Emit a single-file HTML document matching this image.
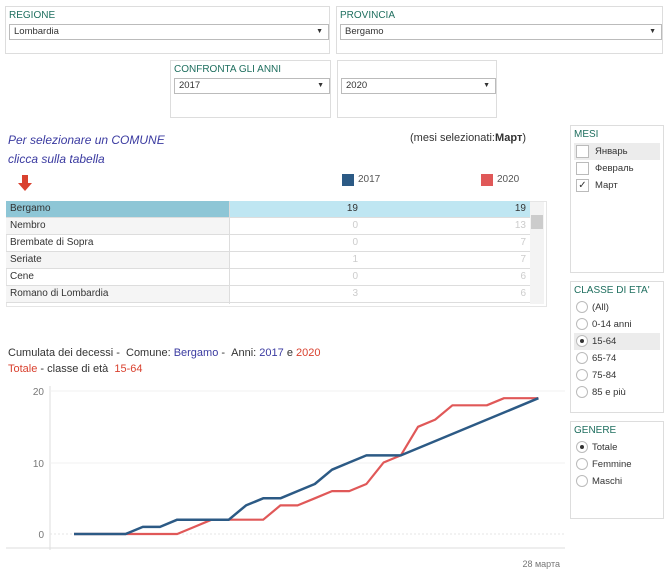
<!DOCTYPE html>
<html><head><meta charset="utf-8"><style>
body{margin:0;width:670px;height:584px;background:#fff;font-family:"Liberation Sans","DejaVu Sans",sans-serif;position:relative;overflow:hidden;color:#333}
.a{position:absolute}
.box{position:absolute;border:1px solid #ddd;background:#fff}
.lbl{position:absolute;font-size:10px;color:#1f6f5f;left:3px;top:3px}
.sel{position:absolute;border:1px solid #bbb;font-size:9.5px;height:14px;line-height:14px;padding-left:4px;background:#fff}
.sel:after{content:"▼";position:absolute;right:5px;font-size:7px;color:#333}
.row{position:absolute;left:6px;width:524px;height:16px;font-size:10px;line-height:16px;border-bottom:1px solid #ddd}
.row span{position:absolute;top:0}
.it{position:absolute;left:3px;font-size:9.5px;height:17px;line-height:17px;width:86px;color:#333}
.cb{display:inline-block;width:11px;height:11px;border:1px solid #bbb;vertical-align:middle;margin:0 6px 0 2px;background:#fff;font-size:10px;line-height:11px;text-align:center}
.rd{display:inline-block;width:10px;height:10px;border:1px solid #bbb;border-radius:50%;vertical-align:middle;margin:0 4px 0 2px;background:#fff;position:relative}
.rd.on:after{content:"";position:absolute;left:3px;top:3px;width:4px;height:4px;border-radius:50%;background:#333}
</style></head><body>
<div class="box" style="left:5px;top:6px;width:323px;height:46px"><div class="lbl">REGIONE</div><div class="sel" style="left:3px;top:17px;width:314px">Lombardia</div></div>
<div class="box" style="left:336px;top:6px;width:325px;height:46px"><div class="lbl">PROVINCIA</div><div class="sel" style="left:3px;top:17px;width:316px">Bergamo</div></div>
<div class="box" style="left:170px;top:60px;width:159px;height:56px"><div class="lbl">CONFRONTA GLI ANNI</div><div class="sel" style="left:3px;top:17px;width:150px">2017</div></div>
<div class="box" style="left:337px;top:60px;width:158px;height:56px"><div class="sel" style="left:3px;top:17px;width:149px">2020</div></div>

<div class="a" style="left:8px;top:131px;font-size:12px;font-style:italic;color:#3a3aa0;line-height:19px">Per selezionare un COMUNE<br>clicca sulla tabella</div>
<div class="a" style="left:410px;top:132px;font-size:11px;color:#333">(mesi selezionati:<b>Март</b>)</div>
<div class="a" style="left:22px;top:175px;width:6px;height:8px;background:#d9412f"></div>
<div class="a" style="left:18px;top:183px;width:0;height:0;border-left:7px solid transparent;border-right:7px solid transparent;border-top:8px solid #d9412f"></div>
<div class="a" style="left:342px;top:174px;width:12px;height:12px;background:#2c5a85"></div>
<div class="a" style="left:358px;top:174px;font-size:10px;color:#555">2017</div>
<div class="a" style="left:481px;top:174px;width:12px;height:12px;background:#e05858"></div>
<div class="a" style="left:497px;top:174px;font-size:10px;color:#555">2020</div>

<div class="a" style="left:6px;top:201px;width:539px;height:104px;border:1px solid #e5e5e5"></div>
<div class="row" style="top:201px;background:#bfe6f2"><span style="left:0;width:223px;height:16px;background:#8ec6d6"></span><span style="left:4px">Bergamo</span><span style="right:172px">19</span><span style="right:4px">19</span></div>
<div class="row" style="top:218px;background:#f5f5f5"><span style="left:223px;width:301px;height:16px;background:#fff"></span><span style="left:4px">Nembro</span><span style="right:172px;color:#ccc">0</span><span style="right:4px;color:#ccc">13</span></div>
<div class="row" style="top:235px"><span style="left:4px">Brembate di Sopra</span><span style="right:172px;color:#ccc">0</span><span style="right:4px;color:#ccc">7</span></div>
<div class="row" style="top:252px;background:#f5f5f5"><span style="left:223px;width:301px;height:16px;background:#fff"></span><span style="left:4px">Seriate</span><span style="right:172px;color:#ccc">1</span><span style="right:4px;color:#ccc">7</span></div>
<div class="row" style="top:269px"><span style="left:4px">Cene</span><span style="right:172px;color:#ccc">0</span><span style="right:4px;color:#ccc">6</span></div>
<div class="row" style="top:286px;background:#f5f5f5"><span style="left:223px;width:301px;height:16px;background:#fff"></span><span style="left:4px">Romano di Lombardia</span><span style="right:172px;color:#ccc">3</span><span style="right:4px;color:#ccc">6</span></div>
<div class="a" style="left:229px;top:202px;width:1px;height:102px;background:#ddd"></div>
<div class="a" style="left:530px;top:202px;width:14px;height:102px;background:#f3f3f3"></div>
<div class="a" style="left:531px;top:215px;width:12px;height:14px;background:#ccc"></div>

<div class="a" style="left:8px;top:347px;font-size:11px;color:#333">Cumulata dei decessi - &nbsp;Comune: <span style="color:#3a3aa0">Bergamo</span> - &nbsp;Anni: <span style="color:#3a3aa0">2017</span> e <span style="color:#d9412f">2020</span></div>
<div class="a" style="left:8px;top:363px;font-size:11px;color:#333"><span style="color:#d9412f">Totale</span> - classe di età &nbsp;<span style="color:#d9412f">15-64</span></div>

<svg class="a" style="left:0;top:380px" width="565" height="204" viewBox="0 380 565 204">
<line x1="50" y1="386" x2="50" y2="550" stroke="#ddd"/>
<line x1="6" y1="548" x2="565" y2="548" stroke="#ddd"/>
<line x1="50" y1="391" x2="565" y2="391" stroke="#f0f0f0"/>
<line x1="50" y1="463" x2="565" y2="463" stroke="#f0f0f0"/>
<line x1="50" y1="534" x2="565" y2="534" stroke="#e6e6e6" stroke-dasharray="2,2"/>
<text x="44" y="395" font-size="10" fill="#777" text-anchor="end" font-family="Liberation Sans">20</text>
<text x="44" y="467" font-size="10" fill="#777" text-anchor="end" font-family="Liberation Sans">10</text>
<text x="44" y="538" font-size="10" fill="#777" text-anchor="end" font-family="Liberation Sans">0</text>
<text x="560" y="567" font-size="9" fill="#777" text-anchor="end" font-family="Liberation Sans">28 марта</text>
<polyline fill="none" stroke="#e05858" stroke-width="2.2" stroke-linejoin="round" points="74,534 177.2,534 194.4,526.9 211.6,519.7 263.2,519.7 280.4,505.4 297.6,505.4 314.8,498.3 332,491.1 349.2,491.1 366.4,484 383.6,462.5 400.8,455.4 418,426.8 435.2,419.6 452.4,405.3 486.8,405.3 504,398.2 538.4,398.2"/>
<polyline fill="none" stroke="#2c5a85" stroke-width="2.5" stroke-linejoin="round" points="74,534 125.6,534 142.8,526.9 160,526.9 177.2,519.7 228.8,519.7 246,505.4 263.2,498.3 280.4,498.3 297.6,491.1 314.8,484 332,469.7 349.2,462.5 366.4,455.4 400.8,455.4 538.4,398.2"/>
</svg>

<div class="box" style="left:570px;top:125px;width:92px;height:146px"><div class="lbl">MESI</div>
<div class="it" style="top:17px;background:#ececec"><span class="cb"></span>Январь</div>
<div class="it" style="top:34px"><span class="cb"></span>Февраль</div>
<div class="it" style="top:51px"><span class="cb">✓</span>Март</div></div>
<div class="box" style="left:570px;top:281px;width:92px;height:130px"><div class="lbl">CLASSE DI ETA'</div>
<div class="it" style="top:17px"><span class="rd"></span>(All)</div>
<div class="it" style="top:34px"><span class="rd"></span>0-14 anni</div>
<div class="it" style="top:51px;background:#ececec"><span class="rd on"></span>15-64</div>
<div class="it" style="top:68px"><span class="rd"></span>65-74</div>
<div class="it" style="top:85px"><span class="rd"></span>75-84</div>
<div class="it" style="top:102px"><span class="rd"></span>85 e più</div></div>
<div class="box" style="left:570px;top:421px;width:92px;height:96px"><div class="lbl">GENERE</div>
<div class="it" style="top:17px"><span class="rd on"></span>Totale</div>
<div class="it" style="top:34px"><span class="rd"></span>Femmine</div>
<div class="it" style="top:51px"><span class="rd"></span>Maschi</div></div>
</body></html>
